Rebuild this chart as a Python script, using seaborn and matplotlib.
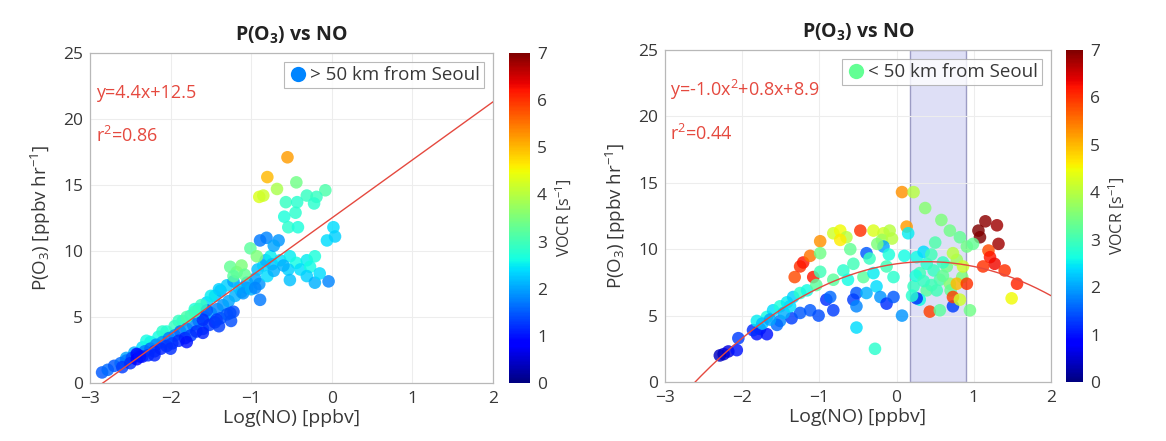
import numpy as np
import pandas as pd
import matplotlib
matplotlib.use("Agg")
import matplotlib.pyplot as plt
import seaborn as sns
from matplotlib.lines import Line2D
from matplotlib.cm import ScalarMappable
from matplotlib.colors import Normalize

# ---------------- data ----------------
# Left panel: > 50 km from Seoul
left_x = [
    # upper row of the band
    -2.55, -2.45, -2.35, -2.25, -2.15, -2.05, -1.95, -1.85, -1.75, -1.65, -1.55, -1.45, -1.38, -1.30, -1.22,
    # top edge of the band
    -2.30, -2.10, -1.90, -1.70, -1.50, -1.40,
    # middle row
    -2.85, -2.78, -2.70, -2.62, -2.55, -2.48, -2.40, -2.32, -2.25, -2.18, -2.10, -2.02, -1.95, -1.88, -1.80,
    -1.72, -1.65, -1.58, -1.50, -1.42, -1.35, -1.28, -1.20, -1.12, -1.05,
    # lower row
    -2.60, -2.50, -2.42, -2.35, -2.28, -2.20, -2.12, -2.05, -1.98, -1.90, -1.82, -1.75, -1.68, -1.60, -1.52,
    -1.45, -1.38, -1.30, -1.22,
    # bottom edge of the band
    -2.20, -2.00, -1.80, -1.60, -1.40, -1.25,
    # extra scattered
    -1.55, -1.43, -1.26, -1.60, -2.42, -2.38, -1.80, -1.70, -1.62,
    -1.15, -1.10, -1.05, -1.00, -0.95, -0.92, -0.90, -0.85, -0.82, -0.80, -0.76, -0.74, -0.72, -0.89, -0.95,
    -1.26, -1.18, -1.12, -1.22, -1.08, -1.01, -0.93,
    -0.81, -0.66, -0.89, -0.72,
    -0.64, -0.52, -0.44, -0.31, -0.21, -0.54, -0.39, -0.27, -0.52, -0.31, -0.21, -0.04, -0.15, -0.60,
    -0.55, -0.80, -0.90, -0.85, -0.68, -0.44, -0.08, -0.57, -0.31, -0.43, -0.19, -0.22, -0.45, -0.59,
    -0.54, -0.42, 0.02, -0.06, 0.04,
]
left_y = [
    1.9, 2.3, 2.7, 3.1, 3.5, 3.9, 4.3, 4.7, 5.1, 5.6, 6.1, 6.6, 7.0, 7.4, 7.7,
    3.2, 3.9, 4.7, 5.6, 6.6, 7.1,
    0.8, 1.0, 1.3, 1.5, 1.7, 1.9, 2.1, 2.4, 2.6, 2.9, 3.1, 3.4, 3.6, 3.9, 4.1,
    4.4, 4.7, 5.0, 5.3, 5.6, 5.9, 6.2, 6.6, 6.9, 7.2,
    1.2, 1.5, 1.8, 2.0, 2.1, 2.4, 2.6, 2.8, 3.0, 3.2, 3.4, 3.6, 3.9, 4.1, 4.4,
    4.6, 4.9, 5.2, 5.4,
    2.1, 2.6, 3.1, 3.8, 4.3, 4.7,
    5.5, 4.8, 5.3, 4.8, 2.2, 2.0, 5.0, 5.4, 5.9,
    7.2, 6.8, 7.6, 7.1, 7.9, 8.6, 7.5, 8.9, 9.3, 8.1, 9.6, 9.0, 8.5, 6.3, 7.2,
    8.8, 8.4, 8.9, 8.1, 8.2, 10.2, 9.6,
    11.0, 10.8, 10.8, 10.4,
    9.3, 9.6, 9.1, 9.3, 9.6, 8.6, 8.6, 8.8, 7.8, 8.1, 7.6, 7.7, 8.3, 8.9,
    17.1, 15.6, 14.1, 14.2, 14.7, 15.2, 14.6, 13.7, 14.2, 13.7, 14.1, 13.6, 12.9, 12.6,
    11.8, 11.8, 11.8, 10.8, 11.1,
]
left_c = [
    2.0, 2.1, 2.4, 2.5, 2.6, 2.7, 2.9, 2.8, 2.6, 2.5, 2.3, 2.2, 2.1, 2.3, 2.0,
    2.6, 2.8, 2.9, 2.7, 2.5, 2.3,
    1.5, 1.6, 1.5, 1.6, 1.7, 1.4, 1.8, 1.7, 1.6, 1.8, 1.9, 1.7, 1.8, 1.6, 1.9,
    1.8, 1.7, 1.9, 2.0, 1.8, 1.9, 2.0, 2.1, 2.0, 1.9,
    1.3, 1.2, 0.9, 1.0, 1.2, 1.3, 1.1, 1.2, 1.3, 1.2, 1.1, 1.3, 1.2, 1.4, 1.3,
    1.2, 1.4, 1.5, 1.4,
    1.1, 1.2, 1.0, 1.1, 1.3, 1.4,
    1.5, 1.3, 1.4, 1.2, 0.9, 1.0, 3.1, 3.0, 2.9,
    2.2, 1.9, 2.0, 2.1, 2.0, 2.2, 1.9, 2.3, 2.1, 2.4, 2.5, 2.2, 2.1, 1.7, 1.8,
    3.3, 3.4, 3.5, 3.2, 3.3, 3.2, 3.5,
    1.8, 1.9, 1.7, 2.0,
    2.4, 2.5, 2.6, 2.5, 2.7, 2.3, 2.4, 2.6, 2.2, 2.3, 2.1, 1.8, 2.4, 2.1,
    5.2, 5.0, 4.3, 4.2, 3.9, 3.4, 3.1, 2.9, 2.9, 2.8, 2.9, 2.8, 2.8, 2.7,
    2.8, 2.7, 2.4, 2.4, 2.3,
]

# Right panel: < 50 km from Seoul
right_x = [
    -2.24, -2.18, -2.29, -2.07, -2.05,
    -1.81, -1.77, -1.68, -1.86,
    -1.81, -1.68, -1.60, -1.51, -1.42, -1.34, -1.25, -1.16, -1.51, -1.55, -1.36, -1.25,
    -1.74, -1.64, -1.46, -1.38,
    -1.32, -1.25, -1.21, -1.12, -0.99, -1.08,
    -1.04, -0.99, -0.99,
    -1.12, -1.01, -0.91, -0.82, -0.86,
    -0.82, -0.73, -0.65, -0.73,
    -0.47, -0.30, -0.17, -0.09, -0.19, -0.06,
    -0.39, -0.17,
    -0.69, -0.56, -0.43, -0.30, -0.13, -0.04, -0.82, -0.63,
    -0.52, -0.56, -0.52, -0.39, -0.26, -0.21, -0.13, -0.04, 0.07, -0.52, -0.28,
    -0.35, -0.10, -0.60, -0.25,
    0.07, 0.22, 0.37,
    0.13, 0.15,
    0.58, 0.69, 0.82, 0.91,
    0.26, 0.39, 0.30, 0.48, 0.56, 0.22, 0.39, 0.52, 0.65, 0.69, 0.78, 0.30, 0.43, 0.56, 0.26, 0.73,
    0.25, 0.45, 0.60, 0.35, 0.50, 0.70, 0.10, 0.85, 0.20,
    0.73, 0.78, 0.91, 0.95, 0.82, 0.73, 0.86, 0.45, 0.60, 0.35,
    1.15, 1.06, 1.08, 1.30, 1.32,
    1.19, 1.21, 1.27, 1.40, 1.56, 1.49, 1.12,
    0.99,
]
right_y = [
    2.1, 2.3, 2.0, 2.4, 3.3,
    3.6, 4.0, 3.6, 3.9,
    4.6, 4.9, 5.4, 5.7, 6.0, 6.4, 6.7, 6.9, 4.6, 4.3, 4.8, 5.2,
    4.4, 4.7, 5.2, 5.7,
    7.9, 8.7, 9.0, 9.5, 10.6, 7.9,
    7.3, 8.3, 9.7,
    5.4, 5.0, 6.2, 5.4, 6.4,
    11.2, 11.4, 10.9, 10.7,
    11.4, 11.4, 11.2, 11.4, 10.7, 10.8,
    9.7, 10.2,
    8.4, 8.9, 7.9, 8.2, 8.7, 7.9, 7.7, 7.7,
    6.7, 6.2, 5.7, 6.7, 7.2, 6.4, 5.9, 6.4, 5.0, 4.1, 2.5,
    9.3, 9.6, 10.0, 10.4,
    14.3, 14.3, 13.1,
    11.7, 11.2,
    12.2, 11.4, 10.9, 10.2,
    9.4, 8.9, 8.2, 8.4, 7.7, 7.2, 6.9, 6.9, 8.7, 7.4, 9.2, 6.2, 5.3, 5.4, 6.3, 5.7,
    8.0, 7.3, 9.0, 9.8, 10.5, 6.9, 9.5, 7.9, 6.5,
    6.4, 7.4, 7.4, 5.4, 6.2, 9.7, 8.7, 9.6, 8.0, 7.6,
    12.1, 11.4, 10.9, 11.8, 10.4,
    9.9, 9.4, 8.9, 8.4, 7.4, 6.3, 8.7,
    10.4,
]
right_c = [
    0.5, 0.6, 0.4, 1.0, 1.3,
    1.0, 1.1, 1.0, 1.2,
    2.5, 2.6, 2.4, 2.7, 2.5, 2.3, 2.8, 2.6, 1.8, 1.6, 1.3, 1.5,
    2.2, 2.0, 2.1, 2.4,
    5.8, 6.0, 6.2, 5.5, 5.3, 6.2,
    3.2, 3.0, 3.4,
    1.5, 1.4, 1.2, 1.3, 1.6,
    4.2, 4.5, 4.0, 4.6,
    6.0, 4.3, 4.2, 4.0, 3.8, 4.0,
    1.5, 2.0,
    2.8, 3.0, 3.2, 2.5, 3.0, 2.8, 3.2, 2.6,
    1.5, 1.3, 1.8, 2.1, 2.4, 1.9, 1.2, 1.5, 1.9, 2.4, 2.8,
    2.9, 2.7, 3.3, 3.5,
    5.3, 4.0, 3.6,
    5.2, 2.5,
    3.5, 3.4, 3.3, 3.4,
    2.6, 2.8, 3.0, 2.9, 3.1, 2.9, 3.2, 3.0, 3.4, 3.6, 3.8, 2.6, 5.9, 3.2, 1.2, 1.3,
    2.7, 3.0, 2.9, 2.4, 3.1, 3.3, 2.6, 3.5, 2.8,
    5.9, 5.0, 6.0, 3.4, 4.2, 4.0, 4.2, 3.0, 3.3, 2.9,
    6.9, 7.0, 7.0, 6.8, 6.8,
    5.8, 6.2, 6.3, 6.0, 6.1, 4.5, 6.0,
    3.3,
]

fit_left = [4.4, 12.5]
fit_right = [-1.0, 0.8, 8.9]
shade_span = [0.17, 0.90]
legend_labels = ["> 50 km from Seoul", "< 50 km from Seoul"]
legend_c = [1.8, 3.3]
fit_texts = [["y=4.4x+12.5", "r$^2$=0.86"], ["y=-1.0x$^2$+0.8x+8.9", "r$^2$=0.44"]]
x_ticks = [-3, -2, -1, 0, 1, 2]
y_ticks = [0, 5, 10, 15, 20, 25]
cbar_ticks = [0, 1, 2, 3, 4, 5, 6, 7]

# ---------------- style ----------------
sns.set_theme(style="white")
plt.rcParams['font.family'] = ['Open Sans', 'DejaVu Sans']
plt.rcParams['mathtext.fontset'] = 'custom'
plt.rcParams['mathtext.rm'] = 'Open Sans'
plt.rcParams['mathtext.it'] = 'Open Sans:italic'
plt.rcParams['mathtext.bf'] = 'Open Sans:bold'
plt.rcParams['mathtext.default'] = 'regular'

RED = '#e5493f'
TXT = '#383838'
SPINE = '#b8b8b8'
cmap = matplotlib.colormaps['jet']
norm = Normalize(0, 7)

W, H = 1166, 441
fig = plt.figure(figsize=(W / 100, H / 100), dpi=100)

panels = [
    dict(ax=[90, 53, 403, 330], cb=[509, 53, 21, 330], x=left_x, y=left_y, c=left_c, fit=fit_left, shade=False),
    dict(ax=[665, 50, 386, 332], cb=[1066, 50, 17, 332], x=right_x, y=right_y, c=right_c, fit=fit_right, shade=True),
]

def rect(px):
    l, t, w, h = px
    return [l / W, (H - t - h) / H, w / W, h / H]

for i, p in enumerate(panels):
    ax = fig.add_axes(rect(p['ax']))
    df = pd.DataFrame({'x': p['x'], 'y': p['y'], 'c': p['c']})
    if p['shade']:
        ax.axvspan(shade_span[0], shade_span[1], facecolor='#dedff6', edgecolor='#9c9cc4', lw=1.0, zorder=0)
    sns.scatterplot(data=df, x='x', y='y', hue='c', palette=cmap, hue_norm=norm,
                    s=82, linewidth=0, alpha=0.82, legend=False, ax=ax, zorder=2)
    xs = np.linspace(-3, 2, 300)
    ax.plot(xs, np.polyval(p['fit'], xs), color=RED, lw=1.0, zorder=3)
    ax.set_xlim(-3, 2)
    ax.set_ylim(0, 25)
    ax.set_xticks(x_ticks)
    ax.set_yticks(y_ticks)
    ax.set_xticklabels([str(t).replace('-', '\u2212') for t in x_ticks])
    ax.grid(True, color='#ededed', lw=0.8)
    ax.set_axisbelow(True)
    for s in ax.spines.values():
        s.set_color(SPINE)
        s.set_linewidth(0.9)
    ax.tick_params(direction='in', length=3, color=SPINE, labelsize=12.5, labelcolor=TXT)
    ax.tick_params(axis='x', pad=6)
    ax.tick_params(axis='y', pad=5)
    ax.set_xlabel('Log(NO) [ppbv]', fontsize=14, color=TXT, labelpad=1)
    ax.set_ylabel('P(O$_3$) [ppbv hr$^{-1}$]', fontsize=13.5, color=TXT, labelpad=7)
    ax.set_title('P(O$_3$) vs NO', fontsize=14, fontweight='bold', color='#222222', pad=9)
    ax.text(-2.93, 22.0, fit_texts[i][0], color=RED, fontsize=13, va='center', ha='left')
    ax.text(-2.93, 18.7, fit_texts[i][1], color=RED, fontsize=13, va='center', ha='left')
    handle = Line2D([], [], marker='o', ls='', markersize=11, markeredgewidth=0,
                    markerfacecolor=cmap(norm(legend_c[i])))
    leg = ax.legend([handle], [legend_labels[i]], loc='upper right', fontsize=13.5,
                    frameon=True, fancybox=False, borderpad=0.2, handletextpad=0.1,
                    borderaxespad=0.5, handlelength=1.1)
    leg.get_frame().set_edgecolor('#a8a8a8')
    leg.get_frame().set_linewidth(0.8)
    for t in leg.get_texts():
        t.set_color(TXT)

    cax = fig.add_axes(rect(p['cb']))
    cb = fig.colorbar(ScalarMappable(norm=norm, cmap=cmap), cax=cax)
    cb.set_ticks(cbar_ticks)
    cb.outline.set_visible(False)
    cax.tick_params(length=0, labelsize=12.5, labelcolor=TXT, pad=5)
    cb.set_label('VOCR [s$^{-1}$]', fontsize=11.5, color=TXT, labelpad=5)

fig.savefig('out.png', dpi=100)
